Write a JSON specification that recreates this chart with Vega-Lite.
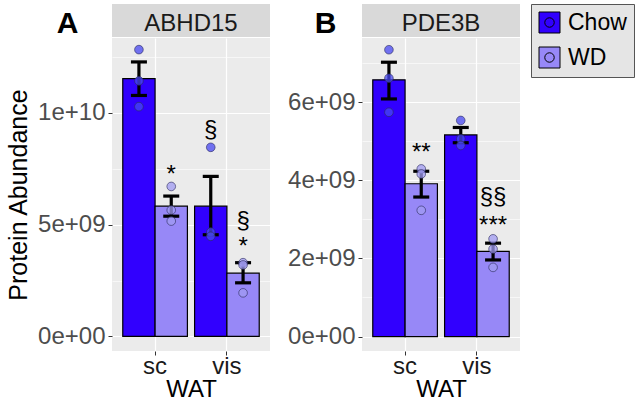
{
  "$schema": "https://vega.github.io/schema/vega-lite/v6.json",
  "background": "white",
  "padding": {"left": 6, "top": 3, "right": 0, "bottom": 0},
  "config": {
    "font": "Liberation Sans",
    "view": {"stroke": null},
    "axis": {
      "labelFont": "Liberation Sans", "titleFont": "Liberation Sans",
      "labelFontSize": 24, "titleFontSize": 25, "titleFontWeight": "normal",
      "titleColor": "black", "tickColor": "#333333", "tickSize": 4,
      "labelPadding": 3, "domain": false, "gridColor": "white", "labelOverlap": false
    },
    "axisX": {"titlePadding": -1, "titleFontSize": 24, "labelPadding": -1},
    "legend": {
      "orient": "right", "offset": 11, "title": null,
      "labelFont": "Liberation Sans", "labelFontSize": 23, "labelColor": "black",
      "symbolType": "M-1,-1H1V1H-1Z M-0.45,0A0.45,0.45 0 1,1 0.45,0A0.45,0.45 0 1,1 -0.45,0Z",
      "symbolSize": 441, "symbolStrokeColor": "black", "symbolStrokeWidth": 1,
      "fillColor": "#e5e5e5", "strokeColor": "#555555", "padding": 7,
      "rowPadding": 10, "labelOffset": 7
    }
  },
  "datasets": {
    "bars": [
      {"gene": "ABHD15", "WAT": "sc", "diet": "Chow", "mean": 11530000000, "lo": 10780000000, "hi": 12280000000},
      {"gene": "ABHD15", "WAT": "sc", "diet": "WD", "mean": 5830000000, "lo": 5380000000, "hi": 6280000000},
      {"gene": "ABHD15", "WAT": "vis", "diet": "Chow", "mean": 5830000000, "lo": 4550000000, "hi": 7160000000},
      {"gene": "ABHD15", "WAT": "vis", "diet": "WD", "mean": 2830000000, "lo": 2400000000, "hi": 3300000000},
      {"gene": "PDE3B", "WAT": "sc", "diet": "Chow", "mean": 6570000000, "lo": 6080000000, "hi": 7020000000},
      {"gene": "PDE3B", "WAT": "sc", "diet": "WD", "mean": 3910000000, "lo": 3570000000, "hi": 4230000000},
      {"gene": "PDE3B", "WAT": "vis", "diet": "Chow", "mean": 5160000000, "lo": 4960000000, "hi": 5350000000},
      {"gene": "PDE3B", "WAT": "vis", "diet": "WD", "mean": 2180000000, "lo": 1960000000, "hi": 2390000000}
    ],
    "points": [
      {"gene": "ABHD15", "WAT": "sc", "diet": "Chow", "value": 12830000000},
      {"gene": "ABHD15", "WAT": "sc", "diet": "Chow", "value": 11430000000},
      {"gene": "ABHD15", "WAT": "sc", "diet": "Chow", "value": 10280000000},
      {"gene": "ABHD15", "WAT": "sc", "diet": "WD", "value": 6710000000},
      {"gene": "ABHD15", "WAT": "sc", "diet": "WD", "value": 5650000000},
      {"gene": "ABHD15", "WAT": "sc", "diet": "WD", "value": 5160000000},
      {"gene": "ABHD15", "WAT": "vis", "diet": "Chow", "value": 8460000000},
      {"gene": "ABHD15", "WAT": "vis", "diet": "Chow", "value": 4670000000},
      {"gene": "ABHD15", "WAT": "vis", "diet": "Chow", "value": 4480000000},
      {"gene": "ABHD15", "WAT": "vis", "diet": "WD", "value": 3300000000},
      {"gene": "ABHD15", "WAT": "vis", "diet": "WD", "value": 3200000000},
      {"gene": "ABHD15", "WAT": "vis", "diet": "WD", "value": 1950000000},
      {"gene": "PDE3B", "WAT": "sc", "diet": "Chow", "value": 7340000000},
      {"gene": "PDE3B", "WAT": "sc", "diet": "Chow", "value": 6610000000},
      {"gene": "PDE3B", "WAT": "sc", "diet": "Chow", "value": 5740000000},
      {"gene": "PDE3B", "WAT": "sc", "diet": "WD", "value": 4290000000},
      {"gene": "PDE3B", "WAT": "sc", "diet": "WD", "value": 4160000000},
      {"gene": "PDE3B", "WAT": "sc", "diet": "WD", "value": 3230000000},
      {"gene": "PDE3B", "WAT": "vis", "diet": "Chow", "value": 5530000000},
      {"gene": "PDE3B", "WAT": "vis", "diet": "Chow", "value": 5060000000},
      {"gene": "PDE3B", "WAT": "vis", "diet": "Chow", "value": 4890000000},
      {"gene": "PDE3B", "WAT": "vis", "diet": "WD", "value": 2500000000},
      {"gene": "PDE3B", "WAT": "vis", "diet": "WD", "value": 2240000000},
      {"gene": "PDE3B", "WAT": "vis", "diet": "WD", "value": 1770000000}
    ],
    "ann": [
      {"gene": "ABHD15", "WAT": "sc", "diet": "WD", "label": "*", "y": 7220000000},
      {"gene": "ABHD15", "WAT": "vis", "diet": "Chow", "label": "§", "y": 9240000000},
      {"gene": "ABHD15", "WAT": "vis", "diet": "WD", "label": "§", "y": 5160000000},
      {"gene": "ABHD15", "WAT": "vis", "diet": "WD", "label": "*", "y": 4000000000},
      {"gene": "PDE3B", "WAT": "sc", "diet": "WD", "label": "**", "y": 4700000000},
      {"gene": "PDE3B", "WAT": "vis", "diet": "WD", "label": "§§", "y": 3570000000},
      {"gene": "PDE3B", "WAT": "vis", "diet": "WD", "label": "***", "y": 2820000000}
    ]
  },
  "spacing": 17,
  "resolve": {"scale": {"y": "independent", "x": "independent", "fill": "shared"}},
  "hconcat": [
    {
      "spacing": 0,
      "resolve": {"scale": {"y": "independent", "x": "independent"}},
      "vconcat": [
        {
          "width": 158, "height": 33,
          "view": {"fill": "#d9d9d9", "stroke": null},
          "data": {"values": [{"gene": "ABHD15"}]},
          "mark": {"type": "text", "fontSize": 24, "font": "Liberation Sans", "color": "#1a1a1a", "dy": 3},
          "encoding": {
            "text": {"field": "gene"},
            "y": {"field": "gene", "type": "nominal", "axis": {"title": "A", "labels": false, "ticks": false, "domain": false, "grid": false, "titleAngle": 0, "titleFontSize": 30, "titleFontWeight": "bold", "titleColor": "black", "titleAlign": "center", "titleBaseline": "alphabetic", "titleX": -45, "titleY": 28}}
          }
        },
        {
          "width": 158, "height": 313,
          "view": {"fill": "#ebebeb", "stroke": null},
          "layer": [
            {
              "data": {"name": "bars"},
              "transform": [{"filter": "datum.gene == 'ABHD15'"}],
              "mark": {"type": "bar", "stroke": "black", "strokeWidth": 1.2},
              "encoding": {
                "x": {"field": "WAT", "type": "nominal", "scale": {"domain": ["sc", "vis"], "paddingInner": 0.1, "paddingOuter": 0.15},
                      "axis": {"title": "WAT", "labelAngle": 0, "grid": true, "bandPosition": 0.5, "labelColor": "#1a1a1a", "gridWidth": 1.2}},
                "xOffset": {"field": "diet", "type": "nominal", "scale": {"domain": ["Chow", "WD"], "paddingInner": 0, "paddingOuter": 0}},
                "y": {"field": "mean", "type": "quantitative",
                      "scale": {"domain": [-650000000, 13350000000], "nice": false, "zero": false},
                      "axis": {"title": "Protein Abundance", "values": [0, 2500000000, 5000000000, 7500000000, 10000000000, 12500000000],
                               "labelExpr": "datum.value == 0 ? '0e+00' : datum.value == 5000000000 ? '5e+09' : datum.value == 10000000000 ? '1e+10' : ''",
                               "labelColor": "#4d4d4d", "grid": true, "titlePadding": 6,
                               "gridWidth": {"condition": {"test": "datum.value % 5000000000 == 0", "value": 1.2}, "value": 0.6},
                               "tickOpacity": {"condition": {"test": "datum.value % 5000000000 == 0", "value": 1}, "value": 0}}},
                "y2": {"datum": 0},
                "fill": {"field": "diet", "type": "nominal", "scale": {"domain": ["Chow", "WD"], "range": ["#3100fe", "#9788f7"]}}
              }
            },
            {
              "data": {"name": "bars"},
              "transform": [{"filter": "datum.gene == 'ABHD15'"}],
              "mark": {"type": "rule", "strokeWidth": 3.2, "color": "black"},
              "encoding": {
                "x": {"field": "WAT", "type": "nominal"},
                "xOffset": {"field": "diet", "type": "nominal"},
                "y": {"field": "lo", "type": "quantitative"},
                "y2": {"field": "hi"}
              }
            },
            {
              "data": {"name": "bars"},
              "transform": [{"filter": "datum.gene == 'ABHD15'"}],
              "mark": {"type": "tick", "orient": "horizontal", "size": 16, "thickness": 3.2, "color": "black", "opacity": 1},
              "encoding": {
                "x": {"field": "WAT", "type": "nominal"},
                "xOffset": {"field": "diet", "type": "nominal"},
                "y": {"field": "lo", "type": "quantitative"}
              }
            },
            {
              "data": {"name": "bars"},
              "transform": [{"filter": "datum.gene == 'ABHD15'"}],
              "mark": {"type": "tick", "orient": "horizontal", "size": 16, "thickness": 3.2, "color": "black", "opacity": 1},
              "encoding": {
                "x": {"field": "WAT", "type": "nominal"},
                "xOffset": {"field": "diet", "type": "nominal"},
                "y": {"field": "hi", "type": "quantitative"}
              }
            },
            {
              "data": {"name": "points"},
              "transform": [{"filter": "datum.gene == 'ABHD15'"}],
              "mark": {"type": "circle", "size": 75, "fillOpacity": 0.75, "stroke": "#2a2a5a", "strokeOpacity": 0.6, "strokeWidth": 1},
              "encoding": {
                "x": {"field": "WAT", "type": "nominal"},
                "xOffset": {"field": "diet", "type": "nominal"},
                "y": {"field": "value", "type": "quantitative"},
                "fill": {"condition": {"test": "datum.diet == 'Chow'", "value": "#4747f2"}, "value": "#a09bf2"}
              }
            },
            {
              "data": {"name": "ann"},
              "transform": [{"filter": "datum.gene == 'ABHD15'"}],
              "mark": {"type": "text", "fontSize": 24, "font": "Liberation Sans", "baseline": "middle", "color": "black"},
              "encoding": {
                "x": {"field": "WAT", "type": "nominal"},
                "xOffset": {"field": "diet", "type": "nominal"},
                "y": {"field": "y", "type": "quantitative"},
                "text": {"field": "label"}
              }
            }
          ]
        }
      ]
    },
    {
      "spacing": 0,
      "resolve": {"scale": {"y": "independent", "x": "independent"}},
      "vconcat": [
        {
          "width": 158, "height": 33,
          "view": {"fill": "#d9d9d9", "stroke": null},
          "data": {"values": [{"gene": "PDE3B"}]},
          "mark": {"type": "text", "fontSize": 24, "font": "Liberation Sans", "color": "#1a1a1a", "dy": 3},
          "encoding": {
            "text": {"field": "gene"},
            "y": {"field": "gene", "type": "nominal", "axis": {"title": "B", "labels": false, "ticks": false, "domain": false, "grid": false, "titleAngle": 0, "titleFontSize": 30, "titleFontWeight": "bold", "titleColor": "black", "titleAlign": "center", "titleBaseline": "alphabetic", "titleX": -37, "titleY": 28}}
          }
        },
        {
          "width": 158, "height": 313,
          "view": {"fill": "#ebebeb", "stroke": null},
          "layer": [
            {
              "data": {"name": "bars"},
              "transform": [{"filter": "datum.gene == 'PDE3B'"}],
              "mark": {"type": "bar", "stroke": "black", "strokeWidth": 1.2},
              "encoding": {
                "x": {"field": "WAT", "type": "nominal", "scale": {"domain": ["sc", "vis"], "paddingInner": 0.1, "paddingOuter": 0.15},
                      "axis": {"title": "WAT", "labelAngle": 0, "grid": true, "bandPosition": 0.5, "labelColor": "#1a1a1a", "gridWidth": 1.2}},
                "xOffset": {"field": "diet", "type": "nominal", "scale": {"domain": ["Chow", "WD"], "paddingInner": 0, "paddingOuter": 0}},
                "y": {"field": "mean", "type": "quantitative",
                      "scale": {"domain": [-370000000, 7640000000], "nice": false, "zero": false},
                      "axis": {"title": null, "values": [0, 1000000000, 2000000000, 3000000000, 4000000000, 5000000000, 6000000000, 7000000000],
                               "labelExpr": "datum.value == 0 ? '0e+00' : datum.value == 2000000000 ? '2e+09' : datum.value == 4000000000 ? '4e+09' : datum.value == 6000000000 ? '6e+09' : ''",
                               "labelColor": "#4d4d4d", "grid": true,
                               "gridWidth": {"condition": {"test": "datum.value % 2000000000 == 0", "value": 1.2}, "value": 0.6},
                               "tickOpacity": {"condition": {"test": "datum.value % 2000000000 == 0", "value": 1}, "value": 0}}},
                "y2": {"datum": 0},
                "fill": {"field": "diet", "type": "nominal", "scale": {"domain": ["Chow", "WD"], "range": ["#3100fe", "#9788f7"]}}
              }
            },
            {
              "data": {"name": "bars"},
              "transform": [{"filter": "datum.gene == 'PDE3B'"}],
              "mark": {"type": "rule", "strokeWidth": 3.2, "color": "black"},
              "encoding": {
                "x": {"field": "WAT", "type": "nominal"},
                "xOffset": {"field": "diet", "type": "nominal"},
                "y": {"field": "lo", "type": "quantitative"},
                "y2": {"field": "hi"}
              }
            },
            {
              "data": {"name": "bars"},
              "transform": [{"filter": "datum.gene == 'PDE3B'"}],
              "mark": {"type": "tick", "orient": "horizontal", "size": 16, "thickness": 3.2, "color": "black", "opacity": 1},
              "encoding": {
                "x": {"field": "WAT", "type": "nominal"},
                "xOffset": {"field": "diet", "type": "nominal"},
                "y": {"field": "lo", "type": "quantitative"}
              }
            },
            {
              "data": {"name": "bars"},
              "transform": [{"filter": "datum.gene == 'PDE3B'"}],
              "mark": {"type": "tick", "orient": "horizontal", "size": 16, "thickness": 3.2, "color": "black", "opacity": 1},
              "encoding": {
                "x": {"field": "WAT", "type": "nominal"},
                "xOffset": {"field": "diet", "type": "nominal"},
                "y": {"field": "hi", "type": "quantitative"}
              }
            },
            {
              "data": {"name": "points"},
              "transform": [{"filter": "datum.gene == 'PDE3B'"}],
              "mark": {"type": "circle", "size": 75, "fillOpacity": 0.75, "stroke": "#2a2a5a", "strokeOpacity": 0.6, "strokeWidth": 1},
              "encoding": {
                "x": {"field": "WAT", "type": "nominal"},
                "xOffset": {"field": "diet", "type": "nominal"},
                "y": {"field": "value", "type": "quantitative"},
                "fill": {"condition": {"test": "datum.diet == 'Chow'", "value": "#4747f2"}, "value": "#a09bf2"}
              }
            },
            {
              "data": {"name": "ann"},
              "transform": [{"filter": "datum.gene == 'PDE3B'"}],
              "mark": {"type": "text", "fontSize": 24, "font": "Liberation Sans", "baseline": "middle", "color": "black"},
              "encoding": {
                "x": {"field": "WAT", "type": "nominal"},
                "xOffset": {"field": "diet", "type": "nominal"},
                "y": {"field": "y", "type": "quantitative"},
                "text": {"field": "label"}
              }
            }
          ]
        }
      ]
    }
  ]
}
